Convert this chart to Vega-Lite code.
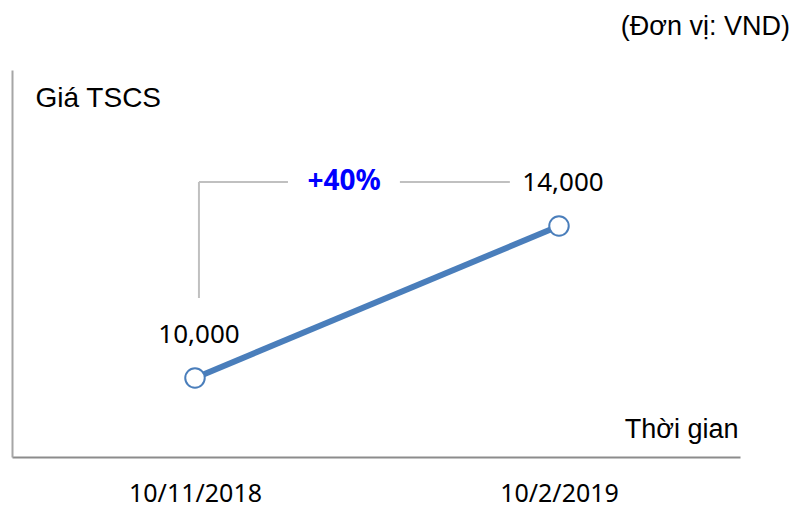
{
  "$schema": "https://vega.github.io/schema/vega-lite/v6.json",
  "width": 728,
  "height": 387,
  "autosize": {"type": "none"},
  "padding": {"left": 12, "top": 70, "right": 58, "bottom": 50},
  "background": "white",
  "config": {"view": {"stroke": null}},
  "title": {
    "text": "(Đơn vị: VND)",
    "orient": "top",
    "anchor": "end",
    "frame": "group",
    "offset": 31,
    "dx": 50,
    "dy": 23,
    "baseline": "alphabetic",
    "font": "Liberation Sans",
    "fontSize": 27,
    "fontWeight": "normal",
    "color": "#000000"
  },
  "datasets": {
    "prices": [
      {"date": "2018-11-10T00:00:00", "price": 10000, "label": "10,000"},
      {"date": "2019-02-10T00:00:00", "price": 14000, "label": "14,000"}
    ],
    "bracket": [
      {"date": "2018-11-11T00:00:00", "price": 12105, "date2": "2018-11-11T00:00:00", "price2": 15158},
      {"date": "2018-11-11T00:00:00", "price": 15158, "date2": "2018-12-03T12:00:00", "price2": 15158},
      {"date": "2018-12-31T19:00:00", "price": 15158, "date2": "2019-01-28T14:00:00", "price2": 15158}
    ],
    "change": [
      {"date": "2018-12-17T17:00:00", "price": 15158, "label": "+40%"}
    ]
  },
  "encoding": {
    "x": {
      "field": "date",
      "type": "temporal",
      "scale": {"domain": [{"year": 2018, "month": 9, "date": 24, "hours": 18}, {"year": 2019, "month": 3, "date": 27, "hours": 18}]},
      "axis": {
        "values": [{"year": 2018, "month": 11, "date": 10}, {"year": 2019, "month": 2, "date": 10}],
        "format": "%-d/%-m/%Y",
        "title": "Thời gian",
        "titleFont": "Liberation Sans",
        "titleFontSize": 27,
        "titleFontWeight": "normal",
        "titleColor": "#000000",
        "titleAlign": "right",
        "titleBaseline": "middle",
        "titleAnchor": null,
        "titleX": 726,
        "titleY": -28,
        "domain": true,
        "domainColor": "#8c8c8c",
        "domainWidth": 2,
        "ticks": false,
        "grid": false,
        "labelFont": "Noto Sans",
        "labelFontSize": 25,
        "labelColor": "#000000",
        "labelPadding": 24,
        "labelFlush": false,
        "labelOverlap": false
      }
    },
    "y": {
      "field": "price",
      "type": "quantitative",
      "scale": {"domain": [7921, 18105], "zero": false, "nice": false},
      "axis": {
        "title": "Giá TSCS",
        "titleFont": "Liberation Sans",
        "titleFontSize": 28,
        "titleFontWeight": "normal",
        "titleColor": "#000000",
        "titleAngle": 0,
        "titleAlign": "left",
        "titleBaseline": "middle",
        "titleAnchor": null,
        "titleX": 23,
        "titleY": 28,
        "domain": true,
        "domainColor": "#a6a6a6",
        "domainWidth": 2,
        "ticks": false,
        "labels": false,
        "grid": false
      }
    }
  },
  "layer": [
    {
      "data": {"name": "prices"},
      "mark": {"type": "line", "color": "#4A7EBB", "strokeWidth": 6}
    },
    {
      "data": {"name": "prices"},
      "mark": {"type": "point", "shape": "circle", "filled": true, "fill": "white", "stroke": "#4A7EBB", "strokeWidth": 2, "size": 380, "opacity": 1}
    },
    {
      "data": {"name": "prices"},
      "mark": {"type": "text", "font": "Noto Sans", "fontSize": 26, "color": "#000000", "dy": -43, "dx": 4},
      "encoding": {"text": {"field": "label"}}
    },
    {
      "data": {"name": "bracket"},
      "mark": {"type": "rule", "color": "#c0c0c0", "strokeWidth": 2},
      "encoding": {
        "x2": {"field": "date2"},
        "y2": {"field": "price2"}
      }
    },
    {
      "data": {"name": "change"},
      "mark": {"type": "text", "font": "Noto Sans", "fontSize": 28, "fontWeight": "bold", "color": "#0000FF", "baseline": "middle"},
      "encoding": {"text": {"field": "label"}}
    }
  ]
}
